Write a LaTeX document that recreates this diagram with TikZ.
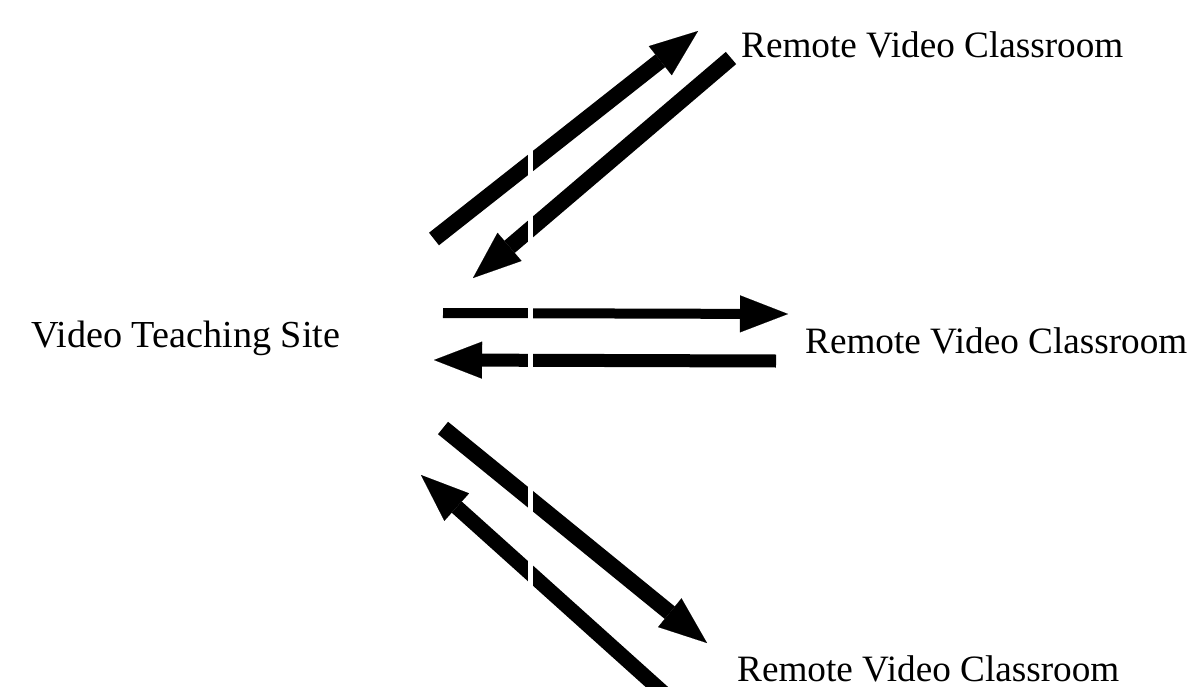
\documentclass[tikz,border=0pt]{standalone}
\usepackage{fontspec}
\setmainfont{Liberation Serif}
\usetikzlibrary{arrows.meta}
\begin{document}
\begin{tikzpicture}[x=1pt,y=-1pt,
  bigarrow/.style={draw=black, line cap=butt,
    -{Triangle[length=48pt,width=37pt,line width=0.1pt]}},
  lbl/.style={inner sep=0pt, anchor=base west, font=\fontsize{37.2}{44}\selectfont}]
\useasboundingbox (0,0) rectangle (1193,687);
\clip (0,0) rectangle (1193,687);
\fill[white] (0,0) rectangle (1193,687);

% labels
\node[lbl, font=\fontsize{38.2}{44}\selectfont] (site) at (31,347) {Video Teaching Site};
\node[lbl] (rc1) at (741,58) {Remote Video Classroom};
\node[lbl] (rc2) at (805,353) {Remote Video Classroom};
\node[lbl] (rc3) at (737,681) {Remote Video Classroom};

% arrow end points
\coordinate (a1) at (434,239);  \coordinate (a2) at (698,31);
\coordinate (b1) at (731,58);   \coordinate (b2) at (473,278);
\coordinate (c1) at (443,313);  \coordinate (c2) at (788,314);
\coordinate (d1) at (776,361);  \coordinate (d2) at (434,360);
\coordinate (e1) at (443,428);  \coordinate (e2) at (707,643);
\coordinate (f1) at (668,697);  \coordinate (f2) at (421,475);

% arrows
\draw[bigarrow, line width=16pt] (a1) -- (a2);
\draw[bigarrow, line width=16pt] (b1) -- (b2);
\draw[bigarrow, line width=10pt] (c1) -- (c2);
\draw[bigarrow, line width=13pt] (d1) -- (d2);
\draw[bigarrow, line width=16pt] (e1) -- (e2);
\draw[bigarrow, line width=15pt] (f1) -- (f2);

% white crease crossing the arrows
\fill[white] (527.5,20) rectangle (532.5,670);
\end{tikzpicture}
\end{document}
